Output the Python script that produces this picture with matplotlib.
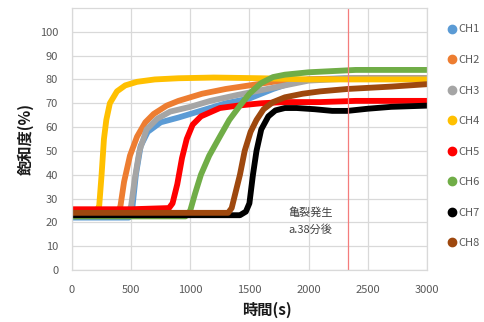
import matplotlib
matplotlib.use("Agg")
import matplotlib.pyplot as plt

plt.rcParams['font.family'] = ['Noto Sans CJK JP', 'DejaVu Sans']

# values (time [s], saturation [%])
ch1_t = [0, 300, 480, 510, 540, 580, 640, 750, 900, 1100, 1300, 1500, 1700, 1850, 2000, 2300, 2600, 3000]
ch1_v = [22, 22, 22, 26, 40, 52, 58, 62, 64, 67, 70, 72, 76, 78.5, 80, 80.5, 80.5, 80.5]
ch2_t = [0, 300, 390, 410, 440, 490, 550, 620, 690, 800, 900, 1100, 1300, 1500, 1700, 2000, 2500, 3000]
ch2_v = [24, 24, 24, 27, 37, 48, 56, 62, 65.5, 69, 71, 74, 76, 77.5, 79, 80, 80.5, 80.5]
ch3_t = [0, 300, 470, 500, 530, 570, 630, 720, 830, 1000, 1170, 1400, 1600, 1800, 2000, 2400, 3000]
ch3_v = [23, 23, 23, 27, 38, 50, 59, 63.5, 66.5, 68.5, 71, 73.5, 75.5, 77.5, 79.5, 80.5, 80.5]
ch4_t = [0, 200, 230, 250, 270, 290, 320, 380, 450, 550, 700, 900, 1200, 1600, 2000, 2500, 3000]
ch4_v = [24, 24, 27, 40, 55, 63, 70, 75, 77.5, 79, 80, 80.5, 80.8, 80.5, 80, 80, 80]
ch5_t = [0, 500, 820, 850, 890, 930, 970, 1020, 1090, 1250, 1400, 1600, 1800, 2100, 2400, 2700, 3000]
ch5_v = [25.5, 25.5, 26, 28, 36, 47, 55, 61, 64.5, 68, 69, 70, 70.5, 70.5, 71, 71, 71]
ch6_t = [0, 600, 960, 1000, 1040, 1090, 1160, 1250, 1330, 1420, 1500, 1600, 1700, 1800, 2000, 2200, 2400, 3000]
ch6_v = [22.5, 22.5, 22.5, 25, 32, 40, 48, 56, 63, 69, 74, 78.5, 81, 82, 83, 83.5, 84, 84]
ch7_t = [0, 800, 1420, 1470, 1500, 1530, 1560, 1600, 1660, 1720, 1800, 1900, 2050, 2200, 2330, 2500, 2700, 3000]
ch7_v = [23, 23, 23, 24.5, 28, 40, 50, 59, 64.5, 67, 68, 68, 67.5, 66.8, 66.8, 67.7, 68.5, 69]
ch8_t = [0, 800, 1320, 1350, 1380, 1420, 1460, 1510, 1560, 1620, 1700, 1800, 1950, 2100, 2330, 2700, 3000]
ch8_v = [24, 24, 24, 26, 32, 40, 50, 58, 63, 67.5, 70.5, 72.5, 74, 75, 76, 77, 78]

series = [ch1_t, ch2_t, ch3_t, ch4_t, ch5_t, ch6_t, ch7_t, ch8_t]
values = [ch1_v, ch2_v, ch3_v, ch4_v, ch5_v, ch6_v, ch7_v, ch8_v]
labels = ["CH1", "CH2", "CH3", "CH4", "CH5", "CH6", "CH7", "CH8"]
colours = ["#5B9BD5", "#ED7D31", "#A5A5A5", "#FFC000", "#FF0000", "#70AD47", "#000000", "#9E480E"]

crack_time = 2330
crack_text = "亀裂発生\na.38分後"

fig = plt.figure(figsize=(4.85, 3.22), dpi=100)
ax = fig.add_axes([0.1485, 0.1615, 0.7315, 0.8137])

for t, v, lab, col in zip(series, values, labels, colours):
    ax.plot(t, v, color=col, linewidth=4.2, solid_capstyle="round",
            solid_joinstyle="round", label=lab)

ax.axvline(crack_time, color="#F47C7C", linewidth=0.9)
ax.text(2017, 20.5, crack_text, ha="center", va="center", fontsize=8,
        color="#404040", linespacing=1.7)

ax.set_xlim(0, 3000)
ax.set_ylim(0, 110)
ax.set_xticks(range(0, 3001, 500))
ax.set_yticks(range(0, 101, 10))
ax.grid(True, color="#D9D9D9", linewidth=0.9)
ax.set_axisbelow(True)
for s in ax.spines.values():
    s.set_color("#D9D9D9")
    s.set_linewidth(0.9)
ax.tick_params(length=0, labelsize=8, labelcolor="#595959")
ax.tick_params(axis="x", pad=11)
ax.tick_params(axis="y", pad=10)

ax.set_xlabel("時間(s)", fontsize=11, fontweight="bold", color="#1a1a1a")
ax.xaxis.label.set_va("center")
ax.xaxis.set_label_coords(0.55, -0.153)
ax.set_ylabel("飽和度(%)", fontsize=11, fontweight="bold", color="#1a1a1a")
ax.yaxis.label.set_va("center")
ax.yaxis.set_label_coords(-0.13, 0.5)

handles = [plt.Line2D([], [], marker="o", linestyle="", color=c, markersize=6) for c in colours]
fig.legend(handles, labels, loc="upper left", bbox_to_anchor=(0.9, 0.955),
           frameon=False, fontsize=8, labelcolor="#595959", handletextpad=0.1,
           labelspacing=1.85, handlelength=1.0)

fig.savefig("out.png", dpi=100)
